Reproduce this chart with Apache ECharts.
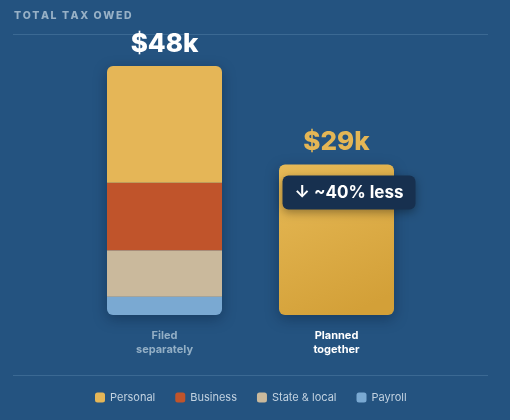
<!DOCTYPE html>
<html>
<head>
<meta charset="utf-8">
<script src="https://cdn.jsdelivr.net/npm/echarts@6/dist/echarts.min.js"></script>
<style>
  html, body { margin: 0; padding: 0; background: #245380; }
  #chart { width: 510px; height: 420px; }
</style>
</head>
<body>
<div id="chart"></div>
<script>
// categories and values ($k)
const categories = ['Filed separately', 'Planned together'];
const personal = [22.5, 29];
const business = [13, '-'];
const stateLocal = [9, '-'];
const payroll = [3.5, '-'];
const totals = [48, 29];
const legendNames = ['Personal', 'Business', 'State & local', 'Payroll'];

const BG = '#245380';
const BAR_W = 115;

const chart = echarts.init(document.getElementById('chart'), null, { renderer: 'canvas' });

const option = {
  backgroundColor: BG,
  animation: false,
  title: {
    // thin spaces stand in for letter-spacing
    text: 'TOTAL TAX OWED'.split('').join('\u2009'),
    left: 14,
    top: 10,
    padding: 0,
    textStyle: { color: '#98b1c6', fontSize: 10.5, fontWeight: 800, fontFamily: 'Inter' }
  },
  legend: {
    data: legendNames,
    bottom: 12,
    left: 90,
    icon: 'roundRect',
    itemWidth: 10,
    itemHeight: 10,
    itemGap: 20,
    textStyle: { color: '#c2d2e0', fontSize: 11, fontFamily: 'Inter' }
  },
  grid: { left: 78.5, right: 87.5, top: 66, bottom: 105 },
  xAxis: {
    type: 'category',
    data: categories,
    axisLine: { show: false },
    axisTick: { show: false },
    axisLabel: {
      margin: 14,
      fontSize: 11,
      fontWeight: 'bold',
      lineHeight: 14,
      fontFamily: 'Inter',
      formatter: v => v.replace(' ', '\n'),
      color: (v, i) => (i === 1 ? '#ffffff' : '#93afc5')
    }
  },
  yAxis: { type: 'value', min: 0, max: 48, show: false },
  graphic: [
    { type: 'line', shape: { x1: 13, y1: 34.5, x2: 488, y2: 34.5 }, style: { stroke: '#3b6993', lineWidth: 1 } },
    { type: 'line', shape: { x1: 13, y1: 375.5, x2: 488, y2: 375.5 }, style: { stroke: '#3b6993', lineWidth: 1 } }
  ],
  series: [
    {
      // backing bar: carries the shadow, total label and badge
      name: 'Total',
      type: 'bar',
      barWidth: BAR_W,
      barGap: '-100%',
      z: 1,
      silent: true,
      data: totals.map((v, i) => i === 1
        ? { value: v, label: { color: '#e4b655' } }
        : v),
      itemStyle: {
        color: BG,
        borderRadius: 6,
        shadowBlur: 14,
        shadowOffsetY: 4,
        shadowColor: 'rgba(5,20,40,0.35)'
      },
      label: {
        show: true,
        position: 'top',
        distance: 9,
        fontSize: 26,
        fontWeight: 800,
        fontFamily: 'Inter',
        formatter: p => '$' + p.value + 'k',
        color: '#ffffff'
      },
      markPoint: {
        silent: true,
        symbol: 'rect',
        symbolSize: 0,
        data: [{
          coord: [1, totals[1]],
          label: {
            show: true,
            position: 'inside',
            offset: [12.5, 28],
            formatter: '\u2193 ~40% less',
            color: '#ffffff',
            fontSize: 17,
            fontWeight: 'bold',
            fontFamily: 'Inter',
            backgroundColor: '#17304f',
            padding: [9, 12, 8, 12],
            borderRadius: 6,
            shadowBlur: 10,
            shadowOffsetY: 3,
            shadowColor: 'rgba(0,0,0,0.35)'
          }
        }]
      }
    },
    {
      name: 'Payroll',
      type: 'bar',
      stack: 'tax',
      barWidth: BAR_W,
      z: 2,
      data: payroll,
      itemStyle: { color: '#7aa9d2', borderRadius: [0, 0, 6, 6] }
    },
    {
      name: 'State & local',
      type: 'bar',
      stack: 'tax',
      barWidth: BAR_W,
      z: 2,
      data: stateLocal,
      itemStyle: { color: '#cab99c' }
    },
    {
      name: 'Business',
      type: 'bar',
      stack: 'tax',
      barWidth: BAR_W,
      z: 2,
      data: business,
      itemStyle: { color: '#c0542b' }
    },
    {
      name: 'Personal',
      type: 'bar',
      stack: 'tax',
      barWidth: BAR_W,
      z: 2,
      data: personal.map((v, i) => i === 1 ? {
        value: v,
        itemStyle: {
          borderRadius: 6,
          color: new echarts.graphic.LinearGradient(0, 0, 0.6, 1, [
            { offset: 0, color: '#e7ba57' },
            { offset: 1, color: '#d3a038' }
          ])
        }
      } : v),
      itemStyle: { color: '#e5b657', borderRadius: [6, 6, 0, 0] }
    }
  ]
};

chart.setOption(option);
</script>
</body>
</html>
